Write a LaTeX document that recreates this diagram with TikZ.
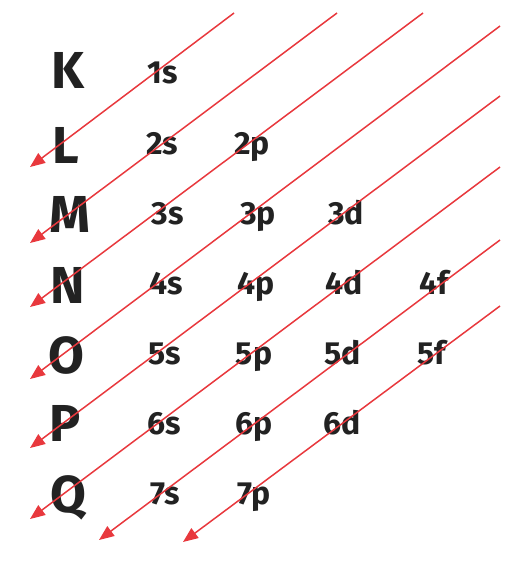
\documentclass[tikz,border=0pt]{standalone}
\usepackage{fontspec}
\setmainfont{Fira Sans}
\usetikzlibrary{arrows.meta}
\definecolor{arrowred}{HTML}{E8383D}
\definecolor{inkgray}{HTML}{222222}
\tikzset{
  shell/.style={text=inkgray, font=\fontsize{52}{52}\selectfont\bfseries, inner sep=0pt,
    text height=36pt, text depth=0pt},
  orbital/.style={text=inkgray, font=\fontsize{32}{32}\selectfont\bfseries, inner sep=0pt,
    text height=22pt, text depth=0pt},
  diag/.style={draw=arrowred, line width=1.5pt, -{Triangle[length=15pt,width=12pt]}}
}
\begin{document}
\begin{tikzpicture}[x=1pt,y=-1pt]
\useasboundingbox (0,0) rectangle (532,584);
% Shells
\node[shell] (K) at (68,70) {K};
\node[shell] (L) at (66,145) {L};
\node[shell] (M) at (70,214) {M};
\node[shell] (N) at (68,285) {N};
\node[shell] (O) at (66,355) {O};
\node[shell] (P) at (65,423) {P};
\node[shell] (Q) at (68,494) {Q};
% Subshells
\node[orbital] (s1) at (163,72) {1s};
\node[orbital] (s2) at (162,143) {2s};
\node[orbital] (p2) at (252,143) {2p};
\node[orbital] (s3) at (168,213) {3s};
\node[orbital] (p3) at (258,213) {3p};
\node[orbital] (d3) at (346,213) {3d};
\node[orbital] (s4) at (166,283) {4s};
\node[orbital] (p4) at (256,283) {4p};
\node[orbital] (d4) at (344,283) {4d};
\node[orbital] (f4) at (434,283) {4f};
\node[orbital] (s5) at (165,353) {5s};
\node[orbital] (p5) at (254,353) {5p};
\node[orbital] (d5) at (343,353) {5d};
\node[orbital] (f5) at (432,353) {5f};
\node[orbital] (s6) at (164,423) {6s};
\node[orbital] (p6) at (254,423) {6p};
\node[orbital] (d6) at (342,423) {6d};
\node[orbital] (s7) at (165,493) {7s};
\node[orbital] (p7) at (254,493) {7p};
% Filling order: upper ends
\coordinate (t1) at (234,13);
\coordinate (t2) at (337,13);
\coordinate (t3) at (423,13);
\coordinate (t4) at (500,26);
\coordinate (t5) at (500,96);
\coordinate (t6) at (500,167);
\coordinate (t7) at (500,240);
\coordinate (t8) at (500,306);
% Filling order: arrow tips
\coordinate (a1) at (30,167);
\coordinate (a2) at (30,243);
\coordinate (a3) at (30,307);
\coordinate (a4) at (30,379);
\coordinate (a5) at (30,448);
\coordinate (a6) at (30,519);
\coordinate (a7) at (99,540);
\coordinate (a8) at (183,542);
\draw[diag] (t1) -- (a1);
\draw[diag] (t2) -- (a2);
\draw[diag] (t3) -- (a3);
\draw[diag] (t4) -- (a4);
\draw[diag] (t5) -- (a5);
\draw[diag] (t6) -- (a6);
\draw[diag] (t7) -- (a7);
\draw[diag] (t8) -- (a8);
\end{tikzpicture}
\end{document}
